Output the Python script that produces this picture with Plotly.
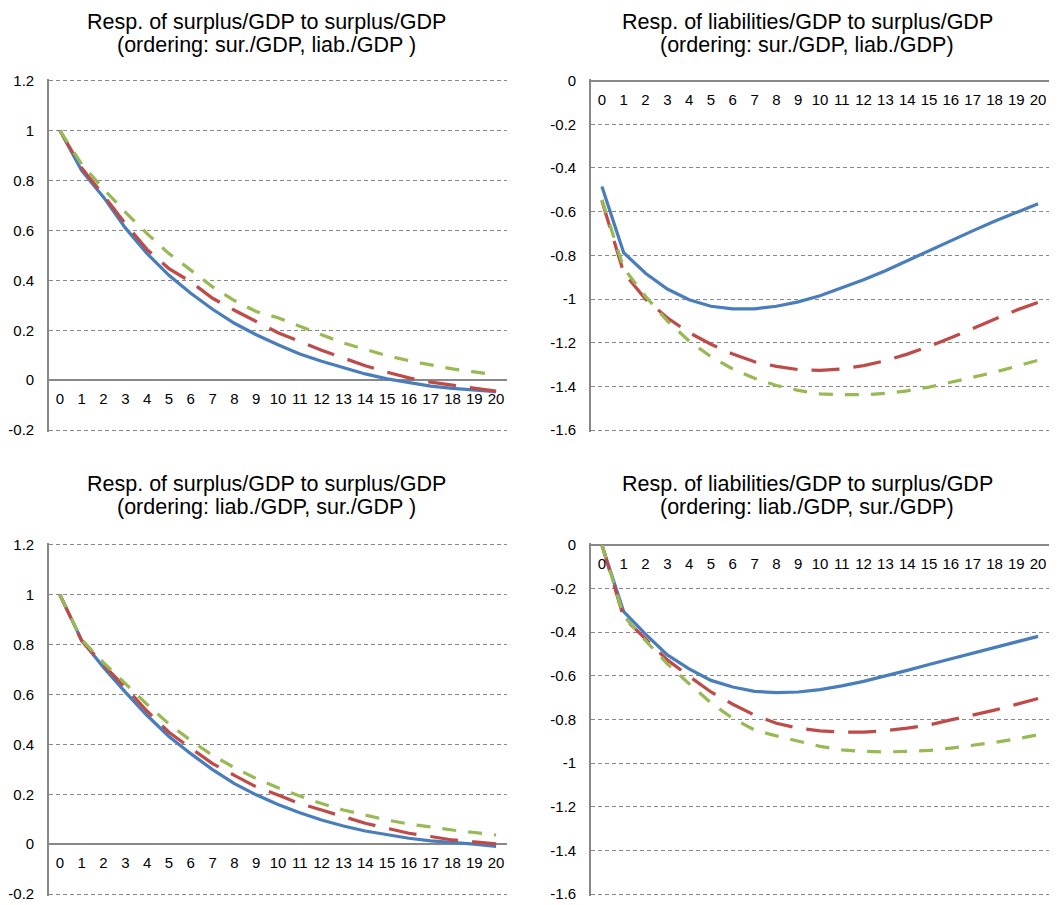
import plotly.graph_objects as go

# page is drawn with an 8px body margin, so figure coords = page coords - 8
W, H = 1049, 897
OFF = 8

periods = list(range(21))
x_tick_labels = [str(i) for i in periods]

# Panel 1: surplus/GDP response, ordering sur./GDP, liab./GDP
p1_blue = [1.0, 0.839, 0.733, 0.61, 0.507, 0.42, 0.348, 0.284, 0.228, 0.182, 0.142,
           0.105, 0.076, 0.049, 0.025, 0.005, -0.011, -0.024, -0.033, -0.041, -0.046]
p1_red = [1.0, 0.85, 0.74, 0.627, 0.523, 0.447, 0.394, 0.328, 0.28, 0.235, 0.19,
          0.155, 0.12, 0.089, 0.058, 0.032, 0.009, -0.008, -0.021, -0.033, -0.044]
p1_green = [1.0, 0.865, 0.766, 0.673, 0.587, 0.507, 0.441, 0.374, 0.319, 0.275, 0.25,
            0.215, 0.182, 0.149, 0.122, 0.098, 0.078, 0.062, 0.045, 0.033, 0.021]

# Panel 2: liabilities/GDP response, ordering sur./GDP, liab./GDP
p2_blue = [-0.485, -0.788, -0.882, -0.954, -1.003, -1.033, -1.045, -1.045, -1.033, -1.013, -0.985,
           -0.95, -0.912, -0.87, -0.824, -0.779, -0.73, -0.688, -0.644, -0.605, -0.564]
p2_red = [-0.55, -0.88, -1.0, -1.086, -1.154, -1.207, -1.252, -1.287, -1.308, -1.323, -1.326,
          -1.32, -1.305, -1.282, -1.252, -1.217, -1.177, -1.136, -1.093, -1.051, -1.015]
p2_green = [-0.545, -0.859, -0.988, -1.10, -1.192, -1.264, -1.32, -1.363, -1.396, -1.418, -1.434,
            -1.438, -1.438, -1.432, -1.42, -1.403, -1.381, -1.358, -1.335, -1.308, -1.28]

# Panel 3: surplus/GDP response, ordering liab./GDP, sur./GDP
p3_blue = [1.0, 0.817, 0.709, 0.61, 0.516, 0.432, 0.363, 0.299, 0.243, 0.198, 0.159,
           0.126, 0.097, 0.073, 0.053, 0.037, 0.024, 0.013, 0.007, 0.0, -0.009]
p3_red = [1.0, 0.815, 0.719, 0.629, 0.533, 0.449, 0.385, 0.323, 0.276, 0.23, 0.197,
          0.163, 0.137, 0.11, 0.084, 0.064, 0.044, 0.031, 0.017, 0.009, 0.001]
p3_green = [1.0, 0.82, 0.728, 0.642, 0.56, 0.482, 0.416, 0.356, 0.307, 0.263, 0.226,
            0.193, 0.163, 0.137, 0.117, 0.097, 0.081, 0.068, 0.057, 0.047, 0.037]

# Panel 4: liabilities/GDP response, ordering liab./GDP, sur./GDP
p4_blue = [0.0, -0.306, -0.409, -0.504, -0.568, -0.621, -0.651, -0.671, -0.677, -0.674, -0.663,
           -0.646, -0.625, -0.601, -0.575, -0.548, -0.522, -0.497, -0.469, -0.444, -0.419]
p4_red = [0.0, -0.333, -0.431, -0.527, -0.602, -0.674, -0.73, -0.78, -0.817, -0.84, -0.852,
          -0.858, -0.858, -0.851, -0.84, -0.825, -0.802, -0.78, -0.757, -0.731, -0.704]
p4_green = [0.0, -0.325, -0.439, -0.545, -0.636, -0.724, -0.795, -0.848, -0.875, -0.9, -0.923,
            -0.939, -0.946, -0.949, -0.946, -0.942, -0.931, -0.919, -0.905, -0.889, -0.87]

title_line1 = [
    "Resp. of surplus/GDP to surplus/GDP",
    "Resp. of liabilities/GDP to surplus/GDP",
    "Resp. of surplus/GDP to surplus/GDP",
    "Resp. of liabilities/GDP to surplus/GDP",
]
title_line2 = [
    "(ordering: sur./GDP, liab./GDP )",
    "(ordering: sur./GDP, liab./GDP)",
    "(ordering: liab./GDP, sur./GDP )",
    "(ordering: liab./GDP, sur./GDP)",
]

surplus_ticks = [-0.2, 0, 0.2, 0.4, 0.6, 0.8, 1.0, 1.2]
surplus_ticklabels = ["-0.2", "0", "0.2", "0.4", "0.6", "0.8", "1", "1.2"]
liab_ticks = [-1.6, -1.4, -1.2, -1.0, -0.8, -0.6, -0.4, -0.2, 0]
liab_ticklabels = ["-1.6", "-1.4", "-1.2", "-1", "-0.8", "-0.6", "-0.4", "-0.2", "0"]

panels = [
    (p1_blue, p1_red, p1_green, surplus_ticks, surplus_ticklabels, [-0.2, 1.2]),
    (p2_blue, p2_red, p2_green, liab_ticks, liab_ticklabels, [-1.6, 0]),
    (p3_blue, p3_red, p3_green, surplus_ticks, surplus_ticklabels, [-0.2, 1.2]),
    (p4_blue, p4_red, p4_green, liab_ticks, liab_ticklabels, [-1.6, 0]),
]

BLUE = "#4A7EBB"
RED = "#BE4B48"
GREEN = "#98B954"
AXIS = "#888888"
FONT = "Arial, Liberation Sans, sans-serif"

# page-pixel layout of the four plot areas (left, right, top, bottom)
boxes = [
    (49, 507, 79, 431.7),
    (591, 1049, 79, 431.7),
    (49, 507, 543.3, 895.7),
    (591, 1049, 543.3, 895.7),
]
title_pos = [(266, 22, 45), (807, 22, 45), (266, 484, 507), (807, 484, 507)]

fig = go.Figure()
layout = dict(
    width=W, height=H,
    margin=dict(l=0, r=0, t=0, b=0, autoexpand=False),
    paper_bgcolor="white", plot_bgcolor="white",
    showlegend=False,
    font=dict(family=FONT, size=15, color="#000000"),
    annotations=[],
)

for i, (blue, red, green, yt, ytl, yr) in enumerate(panels):
    n = "" if i == 0 else str(i + 1)
    l, r, t, b = [v - OFF for v in boxes[i]]
    xd = [l / W, r / W]
    yd = [1 - b / H, 1 - t / H]
    pad = (yr[1] - yr[0]) * 1.6 / (b - t)   # ~1.6px so edge gridlines are kept
    rng = [yr[0] - pad, yr[1] + pad]
    frac0 = (0 - rng[0]) / (rng[1] - rng[0])
    xpos = yd[0] + frac0 * (yd[1] - yd[0])
    for vals, col, dash in [(blue, BLUE, "solid"), (red, RED, "28px,14px"), (green, GREEN, "14px,12px")]:
        fig.add_trace(go.Scatter(
            x=periods, y=vals, mode="lines",
            line=dict(color=col, width=3.25, dash=dash),
            xaxis="x" + n, yaxis="y" + n, hoverinfo="skip",
        ))
    layout["xaxis" + n] = dict(
        domain=xd, anchor="free", position=xpos, side="bottom", automargin=False,
        range=[-0.5, 20.5], tickmode="array", tickvals=periods, ticktext=x_tick_labels,
        showgrid=False, zeroline=False, showline=False,
        ticks="", ticklabelstandoff=8, tickfont=dict(size=15, family=FONT),
    )
    layout["yaxis" + n] = dict(
        domain=yd, anchor="x" + n, range=rng, tickmode="array", tickvals=yt, ticktext=ytl,
        automargin=False,
        showgrid=True, gridcolor=AXIS, gridwidth=1, griddash="4px,3px",
        zeroline=True, zerolinecolor=AXIS, zerolinewidth=1.6,
        showline=True, linecolor=AXIS, linewidth=1.6,
        ticks="", ticklabelstandoff=10, tickfont=dict(size=15, family=FONT),
    )
    cx, cy1, cy2 = title_pos[i]
    for txt, cy in [(title_line1[i], cy1), (title_line2[i], cy2)]:
        layout["annotations"].append(dict(
            text=txt, x=(cx - OFF) / W, y=1 - (cy - OFF) / H, xref="paper", yref="paper",
            xanchor="center", yanchor="middle", showarrow=False,
            font=dict(size=21.5, family=FONT, color="#000000"),
        ))

fig.update_layout(**layout)
fig.write_html("out.html")
